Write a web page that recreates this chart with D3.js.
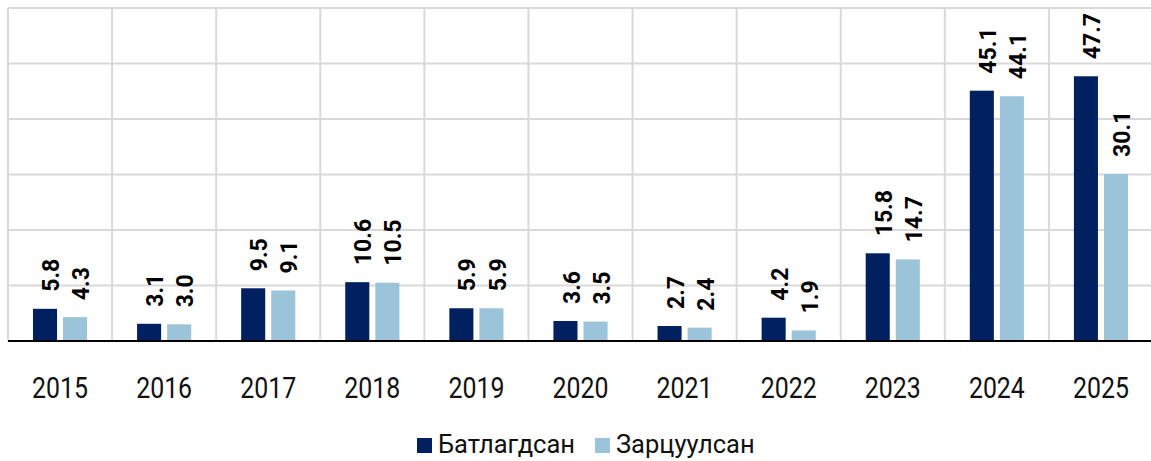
<!DOCTYPE html>
<html lang="mn">
<head>
<meta charset="UTF-8">
<title>Батлагдсан ба Зарцуулсан</title>
<script src="https://d3js.org/d3.v7.min.js"></script>
<style>
    body { margin: 0; background: #fff; }
    svg { display: block; font-family: Roboto, "Noto Sans", sans-serif; }
    .grid line { stroke: #d9d9d9; stroke-width: 2; }
    .val { font-size: 23px; font-weight: bold; fill: #000; }
    .year { font-size: 30px; fill: #111; }
    .legend-text { font-size: 25.5px; fill: #111; }
</style>
</head>
<body>
<svg width="1151" height="461"></svg>
<script>
    const years = ["2015", "2016", "2017", "2018", "2019", "2020", "2021", "2022", "2023", "2024", "2025"];
    const seriesNames = ["Батлагдсан", "Зарцуулсан"];
    const approved = [5.8, 3.1, 9.5, 10.6, 5.9, 3.6, 2.7, 4.2, 15.8, 45.1, 47.7];
    const spent = [4.3, 3.0, 9.1, 10.5, 5.9, 3.5, 2.4, 1.9, 14.7, 44.1, 30.1];
    const colors = ["#002060", "#9bc3d9"];
    const yTicks = [0, 10, 20, 30, 40, 50, 60];

    const margin = { top: 8, right: -2, bottom: 120, left: 8 };
    const width = 1151 - margin.left - margin.right;
    const height = 461 - margin.top - margin.bottom;

    const svg = d3.select("svg");
    const g = svg.append("g").attr("transform", `translate(${margin.left},${margin.top})`);

    const x0 = d3.scaleBand().domain(years).range([0, width]).padding(0);
    const x1 = d3.scaleBand().domain(seriesNames)
        .range([x0.bandwidth() * 0.24, x0.bandwidth() * 0.76])
        .paddingInner(0.2);
    const y = d3.scaleLinear().domain([0, 60]).range([height, 0]);

    // horizontal grid
    g.append("g").attr("class", "grid")
        .selectAll("line").data(yTicks.slice(1)).enter().append("line")
        .attr("x1", 0).attr("x2", width)
        .attr("y1", d => y(d)).attr("y2", d => y(d));
    // vertical grid at category boundaries
    g.append("g").attr("class", "grid")
        .selectAll("line").data(years).enter().append("line")
        .attr("x1", d => x0(d)).attr("x2", d => x0(d))
        .attr("y1", 0).attr("y2", height);

    const rows = years.map((yr, i) => ({ year: yr, values: [approved[i], spent[i]] }));

    const grp = g.selectAll(".yr").data(rows).enter().append("g")
        .attr("transform", d => `translate(${x0(d.year)},0)`);

    grp.selectAll("rect")
        .data(d => d.values.map((v, j) => ({ key: seriesNames[j], v: v, j: j })))
        .enter().append("rect")
        .attr("x", d => x1(d.key))
        .attr("y", d => y(d.v))
        .attr("width", x1.bandwidth())
        .attr("height", d => height - y(d.v))
        .attr("fill", d => colors[d.j]);

    grp.selectAll("text")
        .data(d => d.values.map((v, j) => ({ key: seriesNames[j], v: v })))
        .enter().append("text")
        .attr("class", "val")
        .attr("transform", d => `translate(${x1(d.key) + x1.bandwidth() / 2 + 6},${y(d.v) - 17}) rotate(-90)`)
        .attr("dy", "0.35em")
        .attr("text-anchor", "start")
        .text(d => d.v.toFixed(1));

    // baseline
    g.append("line")
        .attr("x1", 0).attr("x2", width)
        .attr("y1", height).attr("y2", height)
        .attr("stroke", "#000").attr("stroke-width", 2);

    // x axis labels
    const xAxis = g.append("g")
        .attr("transform", `translate(0,${height})`)
        .call(d3.axisBottom(x0).tickSize(0));
    xAxis.select(".domain").remove();
    xAxis.selectAll("text")
        .attr("class", "year")
        .attr("y", 57).attr("dy", 0)
        .attr("transform", "scale(0.83,1)")
        .style("font-family", "Roboto, sans-serif");

    // legend
    const legend = svg.append("g").attr("transform", "translate(417,438)");
    let lx = 0;
    seriesNames.forEach((name, i) => {
        const item = legend.append("g").attr("transform", `translate(${lx},0)`);
        item.append("rect").attr("width", 15).attr("height", 15).attr("fill", colors[i]);
        const t = item.append("text").attr("class", "legend-text")
            .attr("x", 21).attr("y", 15).text(name);
        lx += 21 + t.node().getComputedTextLength() + 20;
    });
</script>
</body>
</html>
